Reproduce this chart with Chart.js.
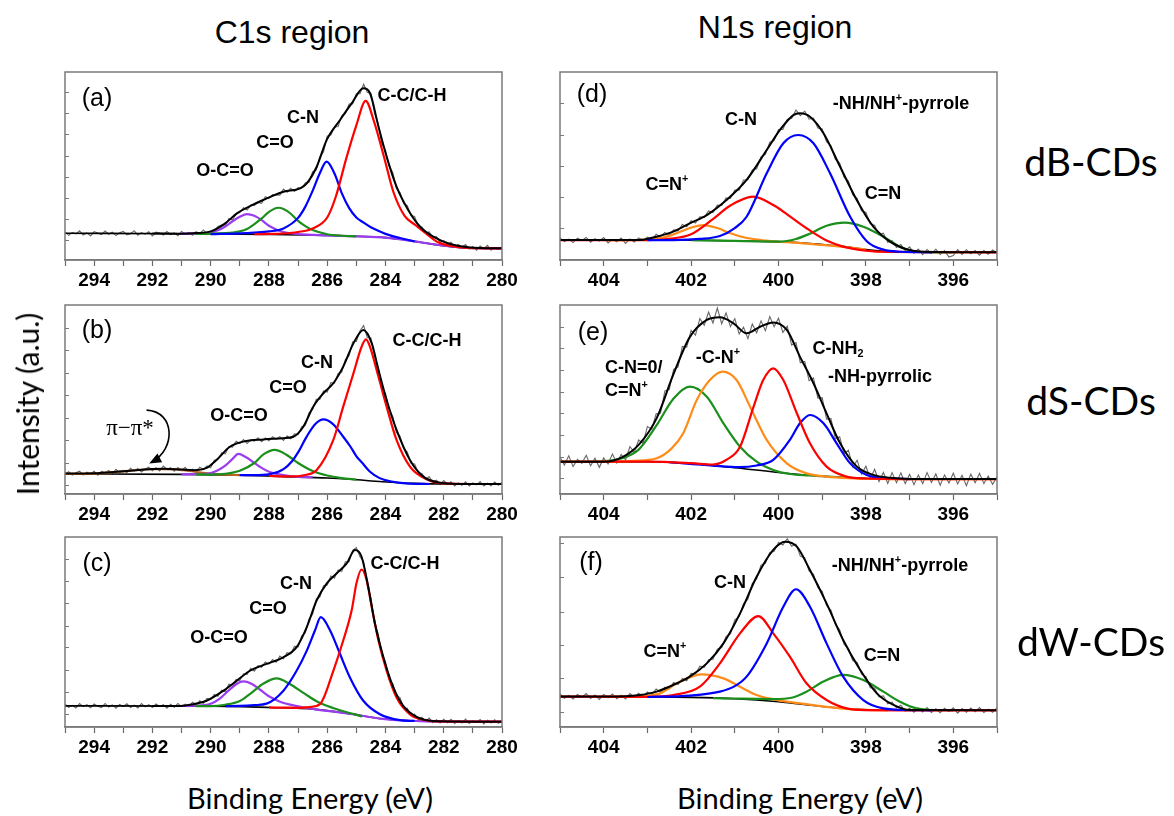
<!DOCTYPE html>
<html>
<head>
<meta charset="utf-8">
<script src="https://cdn.jsdelivr.net/npm/chart.js@4.4.0/dist/chart.umd.min.js"></script>
<style>
  body { margin: 0; background: #fff; }
  #wrap { position: relative; width: 1174px; height: 816px; overflow: hidden; font-family: "Liberation Sans", Arial, sans-serif; }
  canvas { position: absolute; }
  .t { position: absolute; transform: translate(-50%, -50%); white-space: nowrap; color: #000; line-height: 1; z-index: 5; }
  .tl { position: absolute; transform: translate(0, -50%); white-space: nowrap; color: #000; line-height: 1; z-index: 5; }
  .ann { font-weight: bold; font-size: 18px; }
  .pl { font-size: 25px; }
  .cal { font-family: Lato, "Open Sans", sans-serif; }
  sup { font-size: 0.6em; vertical-align: 0.75em; line-height: 0; }
  sub { font-size: 0.6em; vertical-align: -0.25em; line-height: 0; }
</style>
</head>
<body>
<div id="wrap"></div>
<script>
// binding energy grids of the measured (noisy) spectra
const c1sGrid = [
  295,294.875,294.75,294.625,294.5,294.375,294.25,294.125,
  294,293.875,293.75,293.625,293.5,293.375,293.25,293.125,
  293,292.875,292.75,292.625,292.5,292.375,292.25,292.125,
  292,291.875,291.75,291.625,291.5,291.375,291.25,291.125,
  291,290.875,290.75,290.625,290.5,290.375,290.25,290.125,
  290,289.875,289.75,289.625,289.5,289.375,289.25,289.125,
  289,288.875,288.75,288.625,288.5,288.375,288.25,288.125,
  288,287.875,287.75,287.625,287.5,287.375,287.25,287.125,
  287,286.875,286.75,286.625,286.5,286.375,286.25,286.125,
  286,285.875,285.75,285.625,285.5,285.375,285.25,285.125,
  285,284.875,284.75,284.625,284.5,284.375,284.25,284.125,
  284,283.875,283.75,283.625,283.5,283.375,283.25,283.125,
  283,282.875,282.75,282.625,282.5,282.375,282.25,282.125,
  282,281.875,281.75,281.625,281.5,281.375,281.25,281.125,
  281,280.875,280.75,280.625,280.5,280.375,280.25,280.125,
  280];
const n1sGrid = [
  405,404.9,404.8,404.7,404.6,404.5,404.4,404.3,404.2,404.1,
  404,403.9,403.8,403.7,403.6,403.5,403.4,403.3,403.2,403.1,
  403,402.9,402.8,402.7,402.6,402.5,402.4,402.3,402.2,402.1,
  402,401.9,401.8,401.7,401.6,401.5,401.4,401.3,401.2,401.1,
  401,400.9,400.8,400.7,400.6,400.5,400.4,400.3,400.2,400.1,
  400,399.9,399.8,399.7,399.6,399.5,399.4,399.3,399.2,399.1,
  399,398.9,398.8,398.7,398.6,398.5,398.4,398.3,398.2,398.1,
  398,397.9,397.8,397.7,397.6,397.5,397.4,397.3,397.2,397.1,
  397,396.9,396.8,396.7,396.6,396.5,396.4,396.3,396.2,396.1,
  396,395.9,395.8,395.7,395.6,395.5,395.4,395.3,395.2,395.1,
  395];

// measured intensity (a.u., 0-100 of the panel height)
const aRaw = [
  15.0,13.1,14.6,13.9,15.5,13.3,14.4,12.8,
  15.1,14.3,13.5,15.4,13.7,14.8,13.0,14.5,
  15.2,13.4,14.0,15.6,13.2,14.6,13.7,15.0,
  12.8,14.8,14.3,13.2,15.2,13.5,14.4,12.9,
  15.2,13.8,14.7,13.2,15.1,14.0,16.0,14.2,
  15.3,14.8,17.9,18.6,18.7,22.0,21.4,24.5,
  25.2,27.8,26.6,29.2,29.0,30.6,30.1,33.7,
  32.8,34.8,34.6,34.5,37.7,36.1,38.1,36.4,
  38.5,38.2,41.1,41.4,47.0,48.0,54.8,57.6,
  65.9,66.5,70.8,71.0,76.7,77.9,83.0,83.0,
  88.4,88.5,93.5,89.2,88.6,78.2,72.6,61.9,
  58.3,49.8,46.5,38.0,35.9,30.0,28.9,23.7,
  23.2,18.0,17.6,14.4,14.9,12.1,12.4,9.3,
  10.3,8.2,9.4,6.7,8.3,6.9,8.2,5.8,
  7.2,5.2,7.4,6.0,7.8,5.2,6.7,5.5,
  6.9];
const bRaw = [
  10.2,11.8,10.0,11.2,12.1,10.0,11.5,10.6,
  12.1,9.9,11.9,11.2,12.5,10.6,13.1,11.3,
  12.5,11.3,13.6,12.1,13.5,11.6,13.2,14.2,
  12.3,13.9,12.2,14.8,13.1,13.9,12.0,14.0,
  12.3,14.1,11.9,13.1,11.7,14.2,13.0,14.9,
  13.9,17.9,18.2,21.8,21.2,25.1,24.8,27.9,
  26.7,28.8,26.7,28.7,28.0,29.8,27.7,29.6,
  28.2,30.3,28.9,30.3,28.4,30.7,29.3,31.8,
  31.4,35.6,36.4,43.0,44.8,50.1,50.1,54.5,
  53.9,58.9,58.6,63.8,64.5,71.1,73.2,80.6,
  80.7,86.3,89.1,82.8,82.5,73.3,67.4,56.9,
  53.2,44.8,41.1,32.6,30.5,24.1,22.2,16.2,
  15.9,11.2,10.9,8.1,9.1,6.2,7.3,5.1,
  7.1,5.2,6.5,4.2,5.9,4.6,6.4,4.3,
  5.9,4.8,6.6,4.2,5.7,4.4,6.3,4.6,
  6.1];
const cRaw = [
  12.0,10.4,11.4,10.0,12.3,10.7,11.7,10.1,
  12.1,10.9,10.2,12.4,10.5,11.6,9.9,11.9,
  10.8,12.2,10.3,11.5,10.0,12.3,10.6,11.8,
  10.2,12.1,10.8,11.7,9.9,12.0,10.4,12.4,
  10.7,12.0,10.6,13.0,11.7,13.8,12.4,15.1,
  14.4,17.1,16.2,19.4,18.6,22.5,22.0,25.1,
  24.4,28.0,27.7,30.9,29.4,32.3,31.4,34.2,
  33.1,35.5,34.1,37.3,36.0,39.1,38.5,42.4,
  42.2,48.0,49.6,56.8,59.3,67.3,68.5,74.4,
  74.7,79.5,78.4,82.7,81.9,87.0,87.0,93.0,
  94.4,89.6,87.0,74.7,67.9,54.8,49.1,38.7,
  34.1,25.1,22.9,16.5,15.5,9.9,9.8,6.1,
  6.8,3.8,5.2,3.0,4.7,2.2,3.8,2.1,
  4.1,2.3,4.1,1.8,3.4,2.1,4.2,1.9,
  3.4,2.4,3.9,1.6,3.6,2.1,3.8,1.9,
  3.3];
const dRaw = [
  11.8,9.8,11.1,9.3,11.6,10.4,12.0,9.5,11.3,10.0,
  11.9,9.1,11.0,9.7,11.7,8.8,11.2,9.6,11.8,10.4,
  12.2,10.7,13.7,12.3,14.7,13.2,16.0,15.4,18.9,17.7,
  20.9,19.7,23.0,22.7,26.1,25.2,29.2,29.0,33.0,32.7,
  37.2,37.1,42.6,42.7,47.9,48.5,54.8,56.2,62.7,63.5,
  69.4,69.4,74.8,75.4,79.8,76.8,79.2,74.9,75.5,70.2,
  69.7,62.8,60.9,53.6,51.6,44.0,42.0,34.6,32.8,26.2,
  25.3,19.4,18.4,13.5,14.3,9.4,10.3,6.7,8.2,5.0,
  7.0,3.6,5.8,2.8,5.6,3.4,5.7,3.0,5.0,1.6,
  2.4,5.5,3.0,5.5,3.3,5.1,2.6,5.0,3.1,5.3,
  3.8];
const eRaw = [
  19.5,15.3,20.2,14.5,18.3,16.2,20.5,14.9,18.9,14.1,
  19.1,15.9,21.1,16.4,20.9,18.1,25.0,22.1,28.6,26.8,
  35.7,34.3,42.4,42.7,54.5,55.3,66.0,67.1,78.1,77.7,
  86.6,84.0,92.8,89.3,96.2,90.5,98.4,90.1,95.8,88.6,
  92.8,84.7,88.2,82.2,89.9,85.3,91.6,86.4,93.9,88.5,
  93.0,85.4,88.8,78.8,80.1,69.4,70.1,60.0,61.4,50.7,
  51.0,39.6,39.9,29.2,30.3,21.3,23.2,14.3,17.9,10.5,
  14.7,8.1,13.1,6.6,11.4,5.6,11.3,6.0,11.2,5.5,
  10.4,4.9,10.0,5.5,11.3,6.1,10.6,4.6,10.1,5.8,
  11.0,5.3,9.9,4.4,10.5,6.0,10.9,5.5,9.5,5.1,
  9.1];
const fRaw = [
  17.4,15.1,16.6,14.7,17.1,15.7,17.6,15.0,16.9,14.5,
  17.1,15.4,17.4,14.9,16.7,14.7,17.6,15.7,17.8,15.8,
  18.4,17.0,20.0,18.3,21.0,20.0,23.5,22.4,25.5,24.3,
  28.2,27.9,32.0,31.4,35.4,35.7,41.0,41.8,47.7,49.0,
  56.4,58.1,64.8,67.3,75.5,78.0,85.2,86.2,91.9,92.5,
  97.1,95.8,99.1,95.1,96.2,89.9,89.0,82.2,80.3,73.4,
  71.4,63.8,61.5,54.0,51.2,43.6,41.3,34.9,34.0,27.8,
  26.5,20.7,20.4,15.9,16.4,12.2,13.1,10.0,11.5,8.3,
  9.9,7.8,10.0,7.9,10.2,7.6,9.6,7.5,9.9,8.1,
  10.1,7.3,9.7,7.7,10.0,8.0,10.2,7.6,9.4,7.8,
  10.1];

// (a) dB-CDs C1s: [eV, intensity]
const aBase = [[295,14.2],[291,14.0],[288,13.6],[286,13.1],[285,12.6],[284,11.9],[283.5,11.0],[283,9.9],[282.5,8.7],[282,7.6],[281.5,6.7],[281,6.3],[280,6.2]];
const aCC = [[288.5,13.7],[288,13.9],[287.5,14.1],[287,14.9],[286.5,16.8],[286,22.6],[285.7,33.9],[285.35,53.8],[285,71.6],[284.68,84.6],[284.4,74],[284.05,54.8],[283.73,36.3],[283.35,23.6],[283,18.9],[282.6,14],[282.2,9.4],[281.6,7.1],[281,6.3],[280,6.2]];
const aCN = [[290,13.8],[289,14.2],[288.5,14.6],[288,15.2],[287.5,16.8],[287,22.4],[286.75,28.4],[286.5,36.8],[286.25,46.3],[286.02,52.3],[285.75,46],[285.5,35.6],[285.25,27.7],[285,22.6],[284.75,19.9],[284.5,17.4],[284.25,15.5],[284,13.9],[283.5,11.7],[283,9.9]];
const aCO = [[290.5,13.9],[290,14.0],[289.5,14.3],[289.25,14.6],[289,15.2],[288.75,16.5],[288.5,19.1],[288.25,22.1],[288,25.6],[287.68,27.8],[287.5,27.1],[287.25,24.6],[287,20.8],[286.75,18],[286.5,15.9],[286,13.7],[285.5,12.9],[285,12.6]];
const aOCO = [[291,14.0],[290.25,14.3],[290,14.7],[289.75,15.8],[289.5,17.8],[289.25,20.6],[289,23],[288.75,24.4],[288.5,23.5],[288.25,21.2],[288,18.2],[287.75,16.2],[287.5,14.8],[287,13.8],[286,13.1],[285,12.6],[284,11.9],[283,9.9],[282,7.6],[281,6.3],[280,6.2]];
const aFit = [[292,14.1],[291,14.0],[290.5,14.3],[290,15.2],[289.5,19.5],[289.1,24.8],[288.6,29],[288.2,31.9],[287.5,36.3],[286.93,38.1],[286.7,40.8],[286.36,49.6],[286.02,63.8],[285.56,74.5],[285.16,83.3],[284.76,91.3],[284.53,88.7],[284.24,70.9],[283.96,55.0],[283.62,39.0],[283.22,26.6],[282.81,17.7],[282.36,12.4],[281.78,8.5],[281.1,6.7],[280,6.2]];

// (b) dS-CDs C1s
const bBase = [[295,10.6],[291,10.4],[289,10.0],[287.5,9.2],[286,8.5],[285.2,7.8],[284.1,6.5],[283,5.6],[282,5.3],[280,5.3]];
const bPi = [[295,10.6],[294.5,10.6],[294,10.8],[293.5,11.3],[293,12.0],[292.5,12.7],[292,13.1],[291.6,13.2],[291.2,13.0],[290.8,12.4],[290.4,11.5],[290,10.8],[289.5,10.2],[289,10.0]];
const bOCO = [[291,10.4],[290.5,10.5],[290,11.1],[289.75,12.6],[289.5,15.0],[289.25,18.6],[289.05,21.2],[288.8,19.6],[288.5,16.5],[288.25,13.8],[288,11.8],[287.5,10.0],[287,9.1],[286.5,8.8]];
const bCO = [[290.5,10.4],[290,10.3],[289.5,10.7],[289,12.3],[288.5,16.4],[288.2,20.8],[287.8,23.3],[287.4,20.8],[287,16.4],[286.5,12.2],[286,9.8],[285.5,8.4],[285,7.6]];
const bCN = [[289,10.0],[288.5,10.0],[288,10.4],[287.5,13.2],[287.2,17.5],[287,22],[286.7,30.5],[286.4,37.2],[286.13,39.5],[285.8,37],[285.45,30.3],[285.2,25],[284.99,19.8],[284.8,16.5],[284.53,11.8],[284.2,8.4],[283.8,6.6],[283.3,5.6],[282.5,5.3]];
const bCC = [[288,9.6],[287.5,9.3],[287,9.4],[286.8,9.9],[286.36,12.7],[285.79,28.6],[285.45,46.2],[285.1,63.8],[284.82,77.9],[284.67,81.8],[284.53,77.9],[284.24,62],[283.96,46.2],[283.62,28.6],[283.16,14.5],[282.59,7.8],[282,5.6],[281,5.3],[280,5.3]];
const bFit = [[295,10.8],[294,11.0],[293,12.1],[292,13.2],[291.6,13.4],[291,12.9],[290.6,12.6],[290.14,13.8],[289.8,18],[289.34,25],[288.88,27.7],[288.19,28.9],[287.51,29.5],[287.16,30.3],[286.82,35.6],[286.48,46.2],[286.13,53.3],[285.79,58.6],[285.45,67.4],[285.1,79.7],[284.76,86.8],[284.47,79.7],[284.24,65.6],[283.96,49.7],[283.62,33.9],[283.16,18],[282.7,9.2],[282.13,6.0],[281.2,5.3],[280,5.3]];

// (c) dW-CDs C1s
const cBase = [[295,11.1],[290,11.0],[288,10.3],[286.4,9.3],[285.2,6.9],[284.1,4.3],[283.2,3.3],[282.4,2.9],[280,2.8]];
const cOCO = [[291,11.1],[290.5,11.2],[290,12.2],[289.7,14.8],[289.4,19],[289.1,22.8],[288.88,24.0],[288.6,22.8],[288.3,19.6],[288,16.2],[287.6,13.2],[287.2,11.5],[286.8,10.2],[286.4,9.3],[285.2,6.9],[284.1,4.3],[283.2,3.3],[282.4,2.9],[280,2.8]];
const cCO = [[290.5,11.0],[290,11.0],[289.5,11.7],[289,13.7],[288.6,18],[288.2,22.8],[287.73,25.6],[287.3,22.8],[286.8,17.8],[286.3,13],[285.8,10.0],[285.3,7.6],[284.8,5.6]];
const cCN = [[289.5,11.0],[289,11.1],[288.5,11.5],[288.08,12.3],[287.51,19],[287.05,29.6],[286.7,40.2],[286.42,50.8],[286.22,57.8],[285.9,50.8],[285.56,38.4],[285.22,26.1],[284.76,13.8],[284.19,6.7],[283.5,3.6],[283,3.2]];
const cCC = [[288,10.3],[287.5,10.2],[287,10.1],[286.6,10.5],[286.25,12],[285.79,29.6],[285.45,45.5],[285.16,61.4],[284.99,76],[284.82,82.9],[284.65,77.5],[284.47,63.1],[284.24,45.5],[283.96,29.6],[283.62,15.5],[283.16,6.7],[282.59,3.5],[282,2.9],[281,2.8],[280,2.8]];
const cFit = [[292,11.1],[291,11.1],[290.6,12],[290.14,13.8],[289.57,19],[289.11,24.3],[288.65,29.6],[288.08,33.2],[287.51,36.7],[287.05,42],[286.7,52.6],[286.36,66.7],[286.02,75.5],[285.68,80.8],[285.33,86.1],[285.05,93.1],[284.82,89.6],[284.59,73.7],[284.36,54.3],[284.07,36.7],[283.73,20.8],[283.39,11.1],[282.93,5.3],[282.36,3.2],[280,2.8]];

// (d) dB-CDs N1s
const dBase = [[405,10.6],[402.5,10.6],[401.5,10.4],[400.5,10.0],[399.5,9.2],[398.5,7.1],[398,5.6],[397.5,4.5],[397,4.2],[395,4.1]];
const dCNplus = [[404,10.6],[403.5,10.6],[403,10.9],[402.6,12.2],[402.3,14.5],[402,17.2],[401.72,18.6],[401.4,17.0],[401.1,14.2],[400.8,12.1],[400.4,10.6],[400,9.7],[399.5,9.0],[399,8.0],[398.5,7.0],[398,5.6]];
const dCN = [[405,10.6],[403,10.6],[402.5,11.3],[402,13.7],[401.5,21.8],[401.1,29],[400.58,33.7],[400.1,29],[399.7,22.5],[399.3,16],[398.9,10.4],[398.5,7.0],[398,5.0],[397.5,4.3],[395,4.1]];
const dPyr = [[403,10.6],[402.4,10.6],[401.8,11.2],[401.34,12.8],[401,17],[400.73,23],[400.27,46.1],[399.89,62.1],[399.55,66.5],[399.2,62.1],[398.82,46.1],[398.36,23],[397.98,10],[397.6,5.5],[397.2,4.4],[396.5,4.1]];
const dCdN = [[402,10.6],[401,10.2],[400.5,9.9],[400,9.8],[399.6,11.2],[399.3,13.8],[398.9,18.2],[398.48,19.9],[398.06,17.7],[397.6,12.4],[397.22,7.1],[396.84,4.4],[396.4,4.1],[396,4.1]];
const dFit = [[405,10.6],[403.2,10.6],[402.79,12.4],[402.41,15.1],[402.03,19.5],[401.64,23.9],[401.19,31.9],[400.73,42.6],[400.27,58.5],[399.97,69.1],[399.66,77.1],[399.51,78],[399.28,76.2],[398.97,67.4],[398.59,49.6],[398.21,31.9],[397.83,17.7],[397.45,9.75],[397.07,5.7],[396.69,4.4],[395,4.1]];

// (e) dS-CDs N1s
const eBase = [[405,17.1],[403,17.1],[402,16.2],[401,13.9],[400,11.4],[399,9.4],[398,8.2],[397,7.9],[395,7.9]];
const eCNO = [[405,17.1],[404.2,17.2],[403.6,18.8],[403.2,23.5],[402.8,36],[402.4,50.5],[402.03,56.8],[401.64,51.5],[401.26,37.4],[400.88,25],[400.5,17.1],[400.12,12.7],[399.74,10.6],[399.3,9.8],[399,9.4],[398,8.2]];
const eCNplus = [[404,17.1],[403.32,17.5],[402.79,18.9],[402.45,24],[402.18,32.1],[401.87,49.7],[401.57,60.3],[401.28,64.7],[400.96,60.3],[400.65,46.2],[400.27,28.6],[399.81,16.2],[399.36,10.9],[398.9,9.2],[398.4,8.4],[397,7.9],[395,7.9]];
const eCNH2 = [[405,17.1],[403,17.1],[402,16.3],[401.5,15.6],[401.2,18],[400.88,25],[400.57,46.2],[400.35,60.3],[400.12,66.5],[399.89,60.3],[399.58,42.7],[399.28,26.8],[398.9,14.5],[398.44,9.2],[398,8.2],[397,7.9],[395,7.9]];
const ePyr = [[402.5,16.8],[401.5,15],[400.9,14.2],[400.5,15.1],[400.12,18],[399.74,28.6],[399.51,37.4],[399.28,41.8],[398.97,37.4],[398.67,26.8],[398.36,16.2],[397.98,10],[397.6,8.3],[397,7.9]];
const eFit = [[405,17.1],[404,17.1],[403.55,19.8],[403.17,26.8],[402.79,40],[402.41,63],[402.03,83],[401.64,92.1],[401.34,93.5],[401.03,90.3],[400.73,85],[400.42,88.5],[400.12,90.8],[399.81,86.8],[399.51,72.7],[399.2,58.6],[398.9,42.7],[398.59,26.8],[398.21,14.5],[397.83,10.1],[397.45,8.6],[397,8.0],[395,7.9]];

// (f) dW-CDs N1s
const fBase = [[405,16],[402,15.6],[401,14.9],[400,13.3],[399,10.8],[398.2,9.3],[397.5,8.8],[395,8.8]];
const fCNplus = [[404,16],[403.5,16],[403,16.4],[402.71,17.7],[402.25,23.9],[401.76,27.7],[401.26,25.6],[400.88,21.2],[400.5,16.8],[400,14],[399.5,12.4],[399,10.9],[398.5,9.7],[398,9.0],[397.5,8.8]];
const fCN = [[405,16],[403,15.9],[402.41,16.8],[401.8,21.2],[401.34,33.5],[400.88,49.3],[400.46,58.4],[400.12,49.3],[399.74,37],[399.36,23],[398.9,14.2],[398.44,9.8],[398,8.9],[397,8.8],[395,8.8]];
const fPyr = [[403,15.8],[402.03,16.5],[401.34,18.6],[401,21.5],[400.73,26.5],[400.27,44],[399.89,63.3],[399.6,72.5],[399.28,63.3],[398.9,44],[398.52,26.5],[398.06,14.2],[397.6,9.8],[397,8.9],[396.5,8.8]];
const fCdN = [[401.5,15.2],[401,15],[400.5,14.8],[400.1,14.7],[399.7,15.4],[399.36,18.6],[398.97,23.9],[398.52,27.4],[398.06,24.7],[397.6,18.6],[397.22,13.3],[396.84,9.8],[396.4,8.9],[396,8.8]];
const fFit = [[405,16],[403.5,16.2],[403.17,16.8],[402.79,18.6],[402.41,22.1],[402.03,26.5],[401.64,33.5],[401.26,44],[400.88,59.8],[400.5,79.1],[400.12,93.2],[399.85,97.5],[399.58,94.9],[399.28,82.6],[398.9,65.1],[398.52,45.8],[398.13,30],[397.75,17.7],[397.37,11.6],[396.99,8.9],[395,8.8]];

// little tick marks on the left frame edge (intensity units)
const aTicks = [10.6,21.8,33.1,44.3,55.5,66.9,78.0,89.2];
const bTicks = [4.8,16.6,28.6,40.0,52.4,64.2,76.2,87.7];
const cTicks = [7.1,18.5,30.0,42.0,53.4,65.3,76.9,88.2];
const dTicks = [16.8,33.3,50,66.5,83.3];
const eTicks = [8.6,19.8,31.2,42.7,54.1,65.6,77.1,88.5];
const fTicks = [8.1,25.6,43.2,60.7,79.1,96.7];

const RED = '#ff0000', BLUE = '#0000ff', GREEN = '#1b8f1b', PURPLE = '#9a3cf0', ORANGE = '#ff8c1a', BROWN = '#b8641c';

const wrap = document.getElementById('wrap');

function pts(arr) {
    return arr.map(p => ({ x: p[0], y: p[1] }));
}

// frame, inner ticks and the pi-pi* arrow
const framePlugin = {
    id: 'frame',
    afterDraw(chart, args, opts) {
        const a = chart.chartArea;
        const ctx = chart.ctx;
        const xs = chart.scales.x, ys = chart.scales.y;
        ctx.save();
        ctx.strokeStyle = '#7a7a7a';
        ctx.lineWidth = 1.5;
        ctx.strokeRect(a.left, a.top, a.right - a.left, a.bottom - a.top);
        ctx.lineWidth = 1;
        (opts.yTicks || []).forEach(v => {
            const y = Math.round(ys.getPixelForValue(v)) + 0.5;
            ctx.beginPath();
            ctx.moveTo(a.left, y);
            ctx.lineTo(a.left + 4, y);
            ctx.stroke();
        });
        if (opts.arrow) {
            const p = opts.arrow.map(q => [xs.getPixelForValue(q[0]), ys.getPixelForValue(q[1])]);
            ctx.strokeStyle = '#000';
            ctx.lineWidth = 1.6;
            ctx.beginPath();
            ctx.moveTo(p[0][0], p[0][1]);
            ctx.bezierCurveTo(p[1][0], p[1][1], p[2][0], p[2][1], p[3][0], p[3][1]);
            ctx.stroke();
            const ang = Math.atan2(p[3][1] - p[2][1], p[3][0] - p[2][0]);
            ctx.fillStyle = '#000';
            ctx.beginPath();
            ctx.moveTo(p[3][0] + 3 * Math.cos(ang), p[3][1] + 3 * Math.sin(ang));
            ctx.lineTo(p[3][0] - 9 * Math.cos(ang) + 5 * Math.sin(ang), p[3][1] - 9 * Math.sin(ang) - 5 * Math.cos(ang));
            ctx.lineTo(p[3][0] - 9 * Math.cos(ang) - 5 * Math.sin(ang), p[3][1] - 9 * Math.sin(ang) + 5 * Math.cos(ang));
            ctx.closePath();
            ctx.fill();
        }
        ctx.restore();
    }
};

function drawPanel(box, range, grid, raw, base, comps, fit, yTicks, arrow) {
    const padL = 22, padR = 22, padT = 10, axisH = 40;
    const cv = document.createElement('canvas');
    cv.width = box[2] + padL + padR;
    cv.height = box[3] + padT + axisH;
    cv.style.left = (box[0] - padL) + 'px';
    cv.style.top = (box[1] - padT) + 'px';
    wrap.appendChild(cv);

    const datasets = [];
    datasets.push({ data: pts(fit), borderColor: '#000', borderWidth: 2, pointRadius: 0, cubicInterpolationMode: 'monotone', order: 0 });
    comps.forEach((c, i) => {
        datasets.push({ data: pts(c[0]), borderColor: c[1], borderWidth: 2.2, pointRadius: 0, cubicInterpolationMode: 'monotone', order: i + 1 });
    });
    datasets.push({ data: pts(base), borderColor: '#000', borderWidth: 1.6, pointRadius: 0, cubicInterpolationMode: 'monotone', order: 20 });
    datasets.push({ data: grid.map((x, i) => ({ x: x, y: raw[i] })), borderColor: '#686868', borderWidth: 1.1, pointRadius: 0, tension: 0, order: 30 });

    new Chart(cv, {
        type: 'line',
        data: { datasets: datasets },
        options: {
            responsive: false,
            animation: false,
            devicePixelRatio: 1,
            layout: { padding: { left: padL, right: padR, top: padT, bottom: 0 } },
            plugins: { legend: { display: false }, tooltip: { enabled: false }, frame: { yTicks: yTicks, arrow: arrow } },
            scales: {
                x: {
                    type: 'linear', min: range[0], max: range[1], reverse: true,
                    ticks: {
                        stepSize: 1, autoSkip: false, maxRotation: 0, padding: 3, color: '#000',
                        font: { family: '"Liberation Sans", Arial, sans-serif', size: 19, weight: 'bold' },
                        callback: v => (v % 2 === 0 ? String(v) : '')
                    },
                    grid: { drawOnChartArea: false, drawTicks: true, tickLength: 6, tickColor: '#6a6a6a', tickWidth: 1.2 },
                    border: { display: true, color: '#7a7a7a', width: 1.5 },
                    afterFit: s => { s.height = axisH; }
                },
                y: { display: false, min: 0, max: 100 }
            }
        },
        plugins: [framePlugin]
    });
}

// arrow pointing to the pi-pi* satellite in (b): start, two control points, tip
const piArrow = [[292.2,44.4],[291.2,43.6],[291.2,23.5],[292.02,16.9]];

drawPanel([65, 72, 437, 188], [280, 295], c1sGrid, aRaw, aBase,
    [[aCC, RED], [aCN, BLUE], [aCO, GREEN], [aOCO, PURPLE]], aFit, aTicks);
drawPanel([65, 305, 437, 189], [280, 295], c1sGrid, bRaw, bBase,
    [[bCC, RED], [bCN, BLUE], [bCO, GREEN], [bOCO, PURPLE], [bPi, BROWN]], bFit, bTicks, piArrow);
drawPanel([65, 537, 437, 190], [280, 295], c1sGrid, cRaw, cBase,
    [[cCC, RED], [cCN, BLUE], [cCO, GREEN], [cOCO, PURPLE]], cFit, cTicks);
drawPanel([560, 72, 437, 188], [395, 405], n1sGrid, dRaw, dBase,
    [[dPyr, BLUE], [dCN, RED], [dCdN, GREEN], [dCNplus, ORANGE]], dFit, dTicks);
drawPanel([560, 305, 437, 189], [395, 405], n1sGrid, eRaw, eBase,
    [[eCNH2, RED], [ePyr, BLUE], [eCNplus, ORANGE], [eCNO, GREEN]], eFit, eTicks);
drawPanel([560, 537, 437, 190], [395, 405], n1sGrid, fRaw, fBase,
    [[fPyr, BLUE], [fCN, RED], [fCdN, GREEN], [fCNplus, ORANGE]], fFit, fTicks);

// text: [html, x, y, class, extra style]
const texts = [
    ['C1s region', 292, 32, 't', 'font-size:32px'],
    ['N1s region', 775, 27, 't', 'font-size:32px'],
    ['Intensity (a.u.)', 27, 404, 't cal', 'font-size:30px;transform:translate(-50%,-50%) rotate(-90deg)'],
    ['Binding Energy (eV)', 310, 797, 't cal', 'font-size:29px'],
    ['Binding Energy (eV)', 800, 797, 't cal', 'font-size:29px'],
    ['dB-CDs', 1091, 161, 't cal', 'font-size:39px'],
    ['dS-CDs', 1091, 400, 't cal', 'font-size:39px'],
    ['dW-CDs', 1091, 641, 't cal', 'font-size:39px'],
    ['(a)', 97, 97, 't pl', ''],
    ['C-C/C-H', 412, 95, 't ann', ''],
    ['C-N', 303, 117, 't ann', ''],
    ['C=O', 275, 142, 't ann', ''],
    ['O-C=O', 225, 170, 't ann', ''],
    ['(b)', 97, 329, 't pl', ''],
    ['C-C/C-H', 427, 340, 't ann', ''],
    ['C-N', 317, 362, 't ann', ''],
    ['C=O', 288, 387, 't ann', ''],
    ['O-C=O', 239, 415, 't ann', ''],
    ['π−π*', 130, 427, 't', 'font-size:23px;font-family:\'Liberation Serif\',serif'],
    ['(c)', 97, 562, 't pl', ''],
    ['C-C/C-H', 405, 563, 't ann', ''],
    ['C-N', 296, 583, 't ann', ''],
    ['C=O', 268, 608, 't ann', ''],
    ['O-C=O', 219, 637, 't ann', ''],
    ['(d)', 592, 93, 't pl', ''],
    ['-NH/NH<sup>+</sup>-pyrrole', 901, 103, 't ann', ''],
    ['C-N', 741, 119, 't ann', ''],
    ['C=N<sup>+</sup>', 667, 184, 't ann', ''],
    ['C=N', 883, 193, 't ann', ''],
    ['(e)', 593, 331, 't pl', ''],
    ['C-NH<sub>2</sub>', 838, 348, 't ann', ''],
    ['-NH-pyrrolic', 880, 376, 't ann', ''],
    ['-C-N<sup>+</sup>', 718, 357, 't ann', ''],
    ['C-N=0/', 605, 367, 'tl ann', ''],
    ['C=N<sup>+</sup>', 605, 390, 'tl ann', ''],
    ['(f)', 591, 561, 't pl', ''],
    ['-NH/NH<sup>+</sup>-pyrrole', 900, 565, 't ann', ''],
    ['C-N', 730, 582, 't ann', ''],
    ['C=N<sup>+</sup>', 665, 651, 't ann', ''],
    ['C=N', 882, 655, 't ann', '']
];

texts.forEach(t => {
    const d = document.createElement('div');
    d.className = t[3];
    d.innerHTML = t[0];
    d.style.left = t[1] + 'px';
    d.style.top = t[2] + 'px';
    if (t[4]) d.style.cssText += ';' + t[4];
    wrap.appendChild(d);
});
</script>
</body>
</html>
